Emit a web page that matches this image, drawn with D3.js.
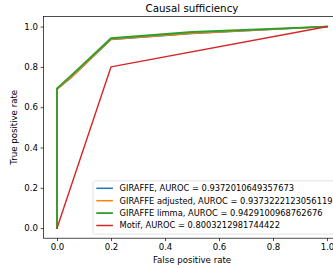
<!DOCTYPE html>
<html lang="en">
<head>
<meta charset="UTF-8">
<title>Causal sufficiency</title>
<script src="https://d3js.org/d3.v7.min.js"></script>
<style>
  body { margin: 0; background: #fff; }
  text { font-family: "DejaVu Sans", sans-serif; fill: #000; }
</style>
</head>
<body>
<svg id="chart" width="333" height="268"></svg>
<script>
// ---- data ----
var seriesNames = ["GIRAFFE, AUROC = 0.9372010649357673",
                   "GIRAFFE adjusted, AUROC = 0.9373222123056119",
                   "GIRAFFE limma, AUROC = 0.9429100968762676",
                   "Motif, AUROC = 0.8003212981744422"];
var giraffeFpr  = [0, 0, 0.05, 0.2, 0.5, 1];
var giraffeTpr  = [0, 0.689, 0.744, 0.936, 0.966, 1];
var adjustedFpr = [0, 0, 0.05, 0.2, 0.5, 1];
var adjustedTpr = [0, 0.69, 0.745, 0.937, 0.967, 1];
var limmaFpr    = [0, 0, 0.05, 0.2, 0.5, 1];
var limmaTpr    = [0, 0.693, 0.754, 0.942, 0.973, 1];
var motifFpr    = [0, 0.2, 1];
var motifTpr    = [0, 0.8, 1];
var xTicks = [0, 0.2, 0.4, 0.6, 0.8, 1.0];
var yTicks = [0, 0.2, 0.4, 0.6, 0.8, 1.0];

var colors = ["#1f77b4", "#ff7f0e", "#2ca02c", "#d62728"];
var widths = [1.5, 1.5, 1.8, 1.5];

var series = [
  {fpr: giraffeFpr, tpr: giraffeTpr},
  {fpr: adjustedFpr, tpr: adjustedTpr},
  {fpr: limmaFpr, tpr: limmaTpr},
  {fpr: motifFpr, tpr: motifTpr}
];

var svg = d3.select("#chart");
svg.append("rect").attr("width", 333).attr("height", 268).attr("fill", "#fff");

// axes box (right edge runs past the window, like the picture)
var axLeft = 43.5, axRight = 340.5, axTop = 16.5, axBottom = 238.2;
var x = d3.scaleLinear().domain([-0.05, 1.05]).range([axLeft, axRight]);
var y = d3.scaleLinear().domain([-0.05, 1.05]).range([axBottom, axTop]);

var fs = 8.6;
var lfs = 8.3;

// curves
var line = d3.line().x(function (d) { return x(d[0]); }).y(function (d) { return y(d[1]); });
series.forEach(function (s, i) {
  var pts = s.fpr.map(function (v, j) { return [v, s.tpr[j]]; });
  svg.append("path")
    .attr("d", line(pts))
    .attr("fill", "none")
    .attr("stroke", colors[i])
    .attr("stroke-width", widths[i])
    .attr("stroke-linejoin", "round")
    .attr("stroke-linecap", "square");
});

// axes
var xAxis = d3.axisBottom(x).tickValues(xTicks).tickFormat(d3.format(".1f"))
  .tickSize(2.9).tickPadding(2.6);
var yAxis = d3.axisLeft(y).tickValues(yTicks).tickFormat(d3.format(".1f"))
  .tickSize(2.9).tickPadding(2.6);

var gx = svg.append("g").attr("transform", "translate(0," + axBottom + ")").call(xAxis);
var gy = svg.append("g").attr("transform", "translate(" + axLeft + ",0)").call(yAxis);
[gx, gy].forEach(function (g) {
  g.select(".domain").remove();
  g.selectAll(".tick line").attr("stroke", "#000").attr("stroke-width", 0.7);
  g.selectAll(".tick text").attr("font-size", fs).attr("font-family", "DejaVu Sans").attr("fill", "#222");
});

// spines
svg.append("rect")
  .attr("x", axLeft).attr("y", axTop)
  .attr("width", axRight - axLeft).attr("height", axBottom - axTop)
  .attr("fill", "none").attr("stroke", "#000").attr("stroke-width", 0.7);

// legend, lower right
var lgRight = axRight - 4.15, lgBottom = axBottom - 4.15;
var rowH = 12.4;
var lgLeft = 93;
var lgTop = lgBottom - (seriesNames.length * rowH + 3.6);
var lg = svg.append("g");
lg.append("rect")
  .attr("x", lgLeft).attr("y", lgTop)
  .attr("width", lgRight - lgLeft).attr("height", lgBottom - lgTop)
  .attr("rx", 1.7).attr("ry", 1.7)
  .attr("fill", "#fff").attr("fill-opacity", 0.8)
  .attr("stroke", "#d6d6d6").attr("stroke-width", 0.7);
seriesNames.forEach(function (name, i) {
  var cy = 188.3 + i * rowH;
  lg.append("line")
    .attr("x1", 96.3).attr("x2", 112.9).attr("y1", cy).attr("y2", cy)
    .attr("stroke", colors[i]).attr("stroke-width", widths[i]);
  lg.append("text")
    .attr("x", 119.5).attr("y", cy)
    .attr("dy", "0.35em")
    .attr("font-size", lfs)
    .attr("fill", "#222")
    .text(name);
});

// title and labels
svg.append("text")
  .attr("x", (axLeft + axRight) / 2).attr("y", 12)
  .attr("text-anchor", "middle").attr("font-size", 10.3)
  .attr("fill", "#222")
  .text("Causal sufficiency");
svg.append("text")
  .attr("x", (axLeft + axRight) / 2).attr("y", 263)
  .attr("text-anchor", "middle").attr("font-size", fs)
  .attr("fill", "#222")
  .text("False positive rate");
svg.append("text")
  .attr("transform", "translate(17," + (axTop + axBottom) / 2 + ") rotate(-90)")
  .attr("text-anchor", "middle").attr("font-size", fs)
  .attr("fill", "#222")
  .text("True positive rate");
</script>
</body>
</html>
